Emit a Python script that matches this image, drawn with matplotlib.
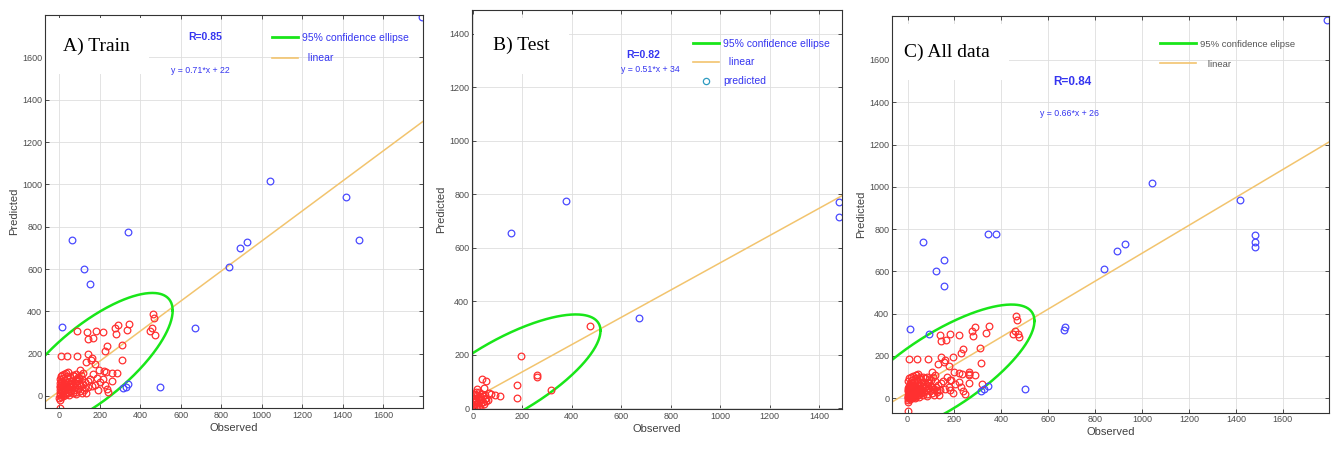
import numpy as np
import matplotlib.pyplot as plt
from matplotlib.lines import Line2D

plt.rcParams["font.family"] = ["Liberation Sans", "DejaVu Sans"]

# 训练集 (observed, predicted)
train_pts = [
    (463, 388), (466, 369), (458, 319), (474, 290), (451, 306), (347, 341), (334, 311), (274, 319),
    (289, 335), (281, 294), (308, 239), (312, 168), (235, 235), (226, 212), (218, 301), (182, 306),
    (165, 275), (137, 301), (141, 270), (90, 306),
    (7, 188), (41, 188), (88, 188), (142, 196), (131, 161), (177, 153), (160, 180), (155, 172),
    (103, 125), (119, 109), (197, 125), (220, 120), (233, 114), (260, 109), (288, 109), (45, 114),
    (81, 102), (169, 102), (185, 86), (202, 67), (227, 54), (235, 35), (243, 20), (260, 70),
    (218, 78), (144, 70), (160, 46), (127, 39), (103, 54), (86, 78), (53, 62), (28, 46), (8, 23),
    (3, -17), (3, -58), (193, 26), (177, 54),
    (2, 5), (4, 15), (6, 30), (3, 40), (8, 50), (5, 60), (10, 70), (2, 80), (12, 20), (15, 35),
    (14, 55), (18, 45), (20, 10), (22, 25), (25, 60), (28, 75), (30, 30), (32, 15), (35, 50),
    (38, 40), (40, 85), (42, 20), (45, 65), (48, 35), (50, 5), (52, 45), (55, 90), (58, 25),
    (60, 55), (62, 40), (65, 75), (68, 15), (70, 50), (72, 30), (75, 95), (78, 60), (80, 40),
    (85, 20), (88, 70), (90, 50), (95, 35), (98, 85), (100, 60), (105, 25), (110, 45), (115, 80),
    (120, 55), (125, 30), (130, 65), (8, 95), (15, 100), (25, 105), (35, 110), (0, -10), (10, -5),
    (20, 0), (5, 45), (12, 65), (18, 85), (28, 5), (38, 95), (45, 15), (58, 70), (66, 100),
    (82, 10), (92, 90), (108, 100), (140, 40), (150, 80), (112, 15), (135, 15),
    (64, 739), (342, 777), (122, 600), (154, 531), (12, 328), (669, 323), (500, 44), (315, 36),
    (328, 44), (342, 56), (838, 611), (894, 698), (926, 728), (1480, 739), (1041, 1018),
    (1418, 939), (1790, 1790),
]

# 测试集
test_pts = [
    (473, 306), (195, 194), (260, 126), (260, 116), (179, 86), (179, 40), (317, 68), (38, 108),
    (55, 102), (45, 77), (18, 71), (65, 58), (88, 50), (112, 46), (74, 55),
    (2, 5), (5, 15), (8, 25), (3, 35), (10, 40), (12, 10), (15, 30), (18, 50), (20, 20), (22, 40),
    (25, 10), (28, 30), (30, 45), (32, 20), (35, 35), (38, 55), (40, 25), (42, 45), (45, 15),
    (48, 35), (50, 50), (52, 28), (55, 40), (8, 55), (0, 0), (4, 48), (14, 62), (26, 60), (60, 30),
    (6, 8), (16, 4), (30, 2),
    (155, 655), (670, 339), (376, 777), (1482, 770), (1482, 714),
]

all_pts = train_pts + test_pts

# 拟合直线 (slope, intercept) 和 R
fit_train = (0.71, 22)
fit_test = (0.51, 34)
fit_all = (0.66, 26)
r_train, r_test, r_all = "0.85", "0.82", "0.84"

# 95% 置信椭圆: 中心 x, y, 尺度 sx, sy, 相关系数
ell_train = (163.5, 158.3, 397.1, 328.6, 0.7467)
ell_test = (126.4, 113.1, 389.8, 237.8, 0.7436)
ell_all = (137.9, 123.9, 403.1, 319.3, 0.7572)

BLUE_TXT = "#3535f0"


def draw_panel(ax, pts, fit, r, ell, xlim, ylim, xticks, yticks, title, title_xy,
               r_xy, eq_xy, leg_xy, leg_labels, leg_color, leg_size, handle_len,
               leg_space, show_pred=False, r_size=7.5):
    pts = np.array(pts, dtype=float)
    cx, cy, sx, sy, rho = ell
    u = (pts[:, 0] - cx) / sx
    v = (pts[:, 1] - cy) / sy
    d2 = (u ** 2 - 2 * rho * u * v + v ** 2) / (1 - rho ** 2)
    inside = d2 <= 1

    ax.grid(True, color="#dedede", lw=0.6)
    ax.set_axisbelow(True)

    t = np.linspace(0, 2 * np.pi, 400)
    ex = cx + sx * np.cos(t)
    ey = cy + sy * (rho * np.cos(t) + np.sqrt(1 - rho ** 2) * np.sin(t))
    ax.plot(ex, ey, color="#19e619", lw=1.8, zorder=3)

    xl = np.array(xlim)
    ax.plot(xl, fit[0] * xl + fit[1], color="#f2c46e", lw=1.1, zorder=2)

    ax.plot(pts[inside, 0], pts[inside, 1], "o", mfc="none", mec="#ff3030", ms=4.8, mew=0.9, zorder=4)
    ax.plot(pts[~inside, 0], pts[~inside, 1], "o", mfc="none", mec="#4a4aff", ms=4.8, mew=0.9, zorder=4)

    ax.set_xlim(xlim)
    ax.set_ylim(ylim)
    ax.set_xticks(xticks)
    ax.set_yticks(yticks)
    ax.tick_params(direction="in", top=True, right=True, length=3, width=0.6,
                   color="#333333", labelsize=6.5, labelcolor="#4d4d4d", pad=2)
    for s in ax.spines.values():
        s.set_color("#333333")
        s.set_linewidth(0.8)
        s.set_zorder(6)
    ax.set_xlabel("Observed", fontsize=8, color="#404040", labelpad=2)
    ax.set_ylabel("Predicted", fontsize=8, color="#404040", labelpad=2)

    ax.text(title_xy[0], title_xy[1], title, transform=ax.transAxes, fontsize=14,
            family=["Liberation Serif", "DejaVu Serif"], va="center", ha="left", zorder=5,
            clip_on=True, bbox=dict(boxstyle="square,pad=1.0", fc="white", ec="none"))
    ax.text(r_xy[0], r_xy[1], "R=" + r, transform=ax.transAxes, fontsize=r_size,
            fontweight="bold", color=BLUE_TXT, ha="center", va="center")
    ax.text(eq_xy[0], eq_xy[1], f"y = {fit[0]:.2f}*x + {fit[1]}", transform=ax.transAxes,
            fontsize=6.3, color=BLUE_TXT, ha="center", va="center")

    handles = [Line2D([], [], color="#19e619", lw=2),
               Line2D([], [], color="#f2c46e", lw=1.2)]
    if show_pred:
        handles.append(Line2D([], [], ls="none", marker="o", mfc="none", mec="#2f9bc1", ms=4.5, mew=0.9))
    ax.legend(handles, leg_labels, loc="upper left", bbox_to_anchor=leg_xy, frameon=False,
              fontsize=leg_size, labelcolor=leg_color, handlelength=handle_len,
              handletextpad=0.4, labelspacing=leg_space, borderpad=0, borderaxespad=0)


fig = plt.figure(figsize=(13.39, 4.5), dpi=100)
axA = fig.add_axes([0.0336, 0.0933, 0.2823, 0.873])
axB = fig.add_axes([0.3525, 0.091, 0.2763, 0.887])
axC = fig.add_axes([0.6662, 0.083, 0.3264, 0.8816])

draw_panel(axA, train_pts, fit_train, r_train, ell_train, (-70, 1797), (-57, 1800),
           range(0, 1601, 200), range(0, 1601, 200), "A) Train", (0.048, 0.921),
           (0.423, 0.944), (0.41, 0.858), (0.60, 0.955),
           ["95% confidence ellipse", "  linear"], BLUE_TXT, 7.5, 2.5, 1.0)
draw_panel(axB, test_pts, fit_test, r_test, ell_test, (-3, 1492), (-3, 1490),
           range(0, 1401, 200), range(0, 1401, 200), "B) Test", (0.057, 0.91),
           (0.462, 0.887), (0.481, 0.85), (0.597, 0.928),
           ["95% confidence ellipse", "  linear", "predicted"], BLUE_TXT, 7.5, 2.5, 0.85,
           show_pred=True)
draw_panel(axC, all_pts, fit_all, r_all, ell_all, (-66, 1797), (-68, 1808),
           range(0, 1601, 200), range(0, 1601, 200), "C) All data", (0.027, 0.909),
           (0.412, 0.834), (0.407, 0.753), (0.613, 0.94),
           ["95% confidence elipse", "   linear"], "#555555", 6.8, 3.8, 1.15, r_size=8.5)

fig.savefig("out.png", dpi=100)
